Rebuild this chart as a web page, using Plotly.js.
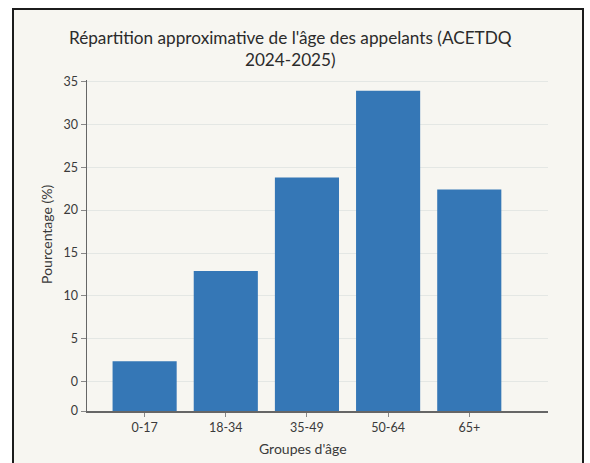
<!DOCTYPE html>
<html>
<head>
<meta charset="utf-8">
<script src="https://cdn.plot.ly/plotly-3.0.1.min.js"></script>
<style>
  html, body { margin: 0; padding: 0; background: #ffffff; width: 590px; height: 463px; overflow: hidden; }
  #frame { position: absolute; left: 12px; top: 8px; width: 568px; height: 470px; border: 2px solid #1c1c1c; background: #f7f6f1; }
  #chart { position: absolute; left: 0; top: 0; width: 590px; height: 463px; }
</style>
</head>
<body>
<div id="frame"></div>
<div id="chart"></div>
<script>
// Data
const categories = ["0-17", "18-34", "35-49", "50-64", "65+"];
const percentages = [2.4, 12.9, 23.8, 33.9, 22.4];
// The reference axis shows an extra "0" label at its lower edge
const axisMin = -3.4;
const tickValues = [axisMin, 0, 5, 10, 15, 20, 25, 30, 35];
const tickLabels = ["0", "0", "5", "10", "15", "20", "25", "30", "35"];

const FONT = "Lato, 'Open Sans', sans-serif";

const trace = {
  type: "bar",
  x: categories,
  y: percentages.map(v => v - axisMin),
  base: axisMin,
  width: 0.79,
  marker: { color: "#3577b6" },
  hoverinfo: "skip"
};

const layout = {
  width: 590,
  height: 463,
  margin: { l: 87, r: 42, t: 80, b: 52 },
  paper_bgcolor: "rgba(0,0,0,0)",
  plot_bgcolor: "rgba(0,0,0,0)",
  font: { family: FONT, color: "#3a3a3a", size: 12 },
  showlegend: false,
  title: {
    text: "Répartition approximative de l'âge des appelants (ACETDQ<br>2024-2025)",
    font: { family: FONT, size: 17.2, color: "#2b2b2b" },
    xref: "container", yref: "container",
    x: 0.492, xanchor: "center",
    y: 0.905, yanchor: "top"
  },
  xaxis: {
    type: "category",
    range: [-0.71, 4.97],
    showline: true, linecolor: "#666666", linewidth: 1.5,
    ticks: "outside", ticklen: 4, tickcolor: "#888888",
    showgrid: false, zeroline: false,
    tickfont: { size: 12.5, color: "#3a3a3a" }
  },
  yaxis: {
    range: [axisMin, 35.15],
    tickmode: "array",
    tickvals: tickValues,
    ticktext: tickLabels,
    showline: true, linecolor: "#666666", linewidth: 1.5,
    ticks: "outside", ticklen: 5, tickcolor: "#888888",
    showgrid: true, gridcolor: "#e4e7e4", gridwidth: 1,
    zeroline: false,
    tickfont: { size: 12.5, color: "#3a3a3a" }
  },
  annotations: [
    {
      text: "Groupes d'âge",
      xref: "paper", yref: "paper",
      x: 0.4686, y: -0.112, xanchor: "center", yanchor: "middle",
      showarrow: false,
      font: { family: FONT, size: 14, color: "#3a3a3a" }
    },
    {
      text: "Pourcentage (%)",
      xref: "paper", yref: "paper",
      x: -0.0868, y: 0.535, xanchor: "center", yanchor: "middle",
      textangle: -90,
      showarrow: false,
      font: { family: FONT, size: 14, color: "#3a3a3a" }
    }
  ]
};

Plotly.newPlot("chart", [trace], layout, { displayModeBar: false, staticPlot: true });
</script>
</body>
</html>
